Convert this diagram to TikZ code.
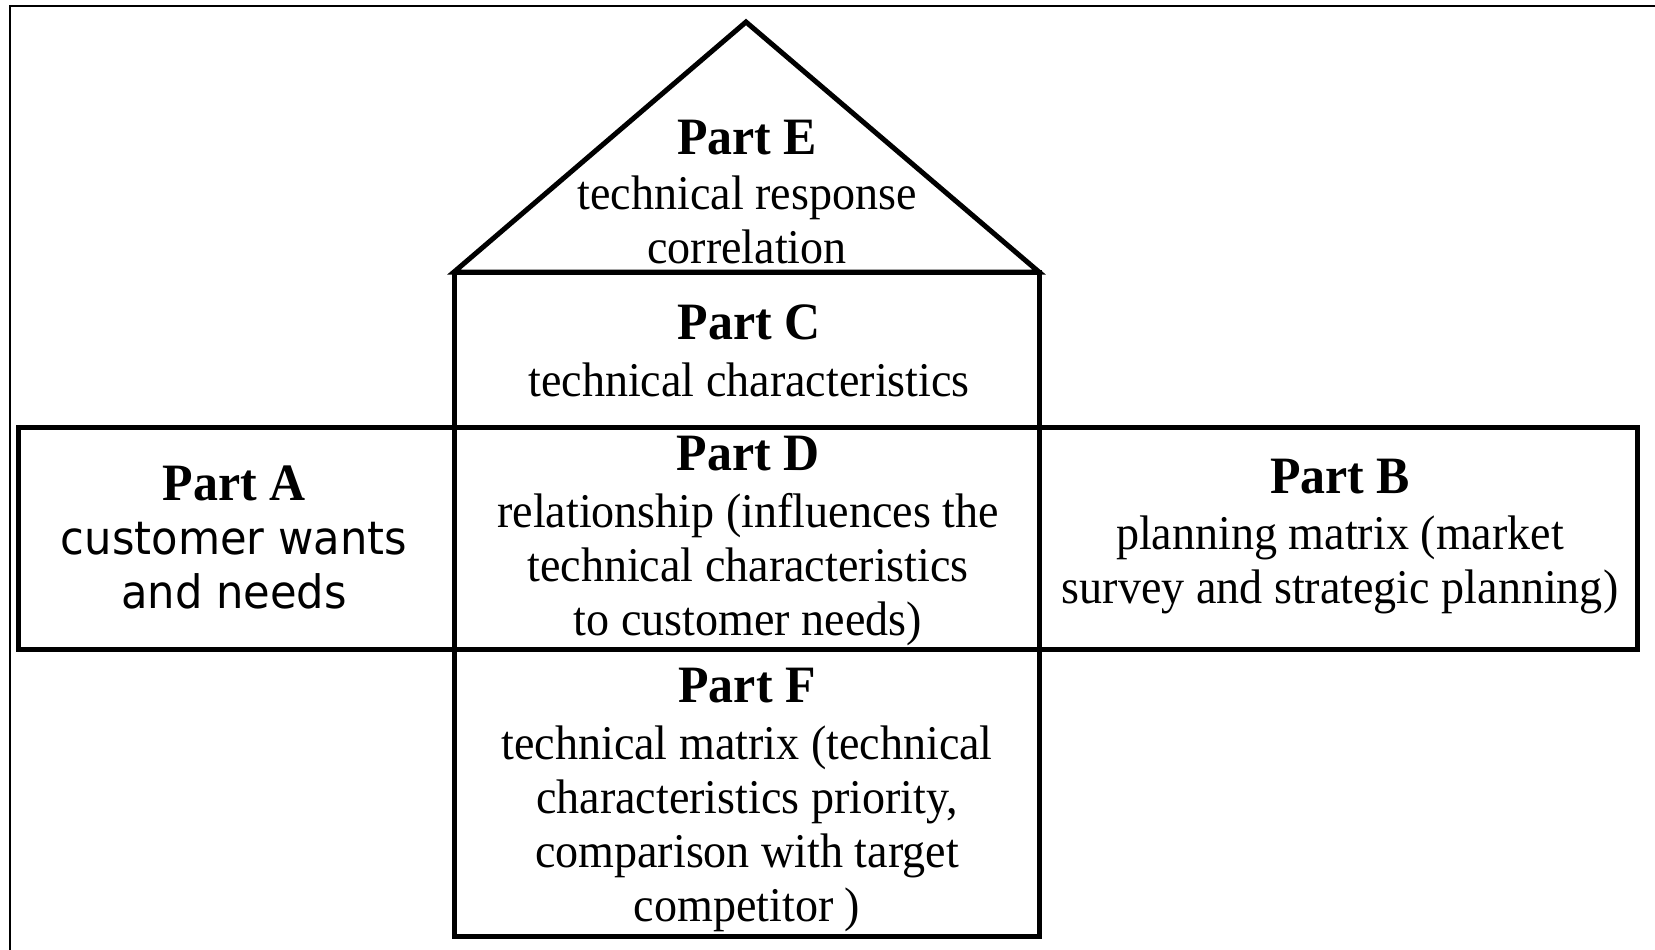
\documentclass[tikz,border=0pt]{standalone}
\usepackage{fontspec}
\setmainfont{Liberation Serif}[FakeStretch=0.95]
\newfontfamily\verafont{DejaVu Sans}[FakeStretch=0.94]
\newcommand{\headline}[1]{{\fontsize{52.5}{54}\selectfont\bfseries #1}}
\begin{document}
\begin{tikzpicture}[x=1pt, y=-1pt,
  wall/.style={draw=black, line width=5pt, line join=miter},
  frameline/.style={draw=black, line width=2.2pt},
  txt/.style={align=center, inner sep=0pt, font=\fontsize{48.5}{54}\selectfont},
  sanstxt/.style={align=center, inner sep=0pt, font=\verafont\fontsize{46}{54}\selectfont}]
\useasboundingbox (0,0) rectangle (1655,950);
\fill[white] (0,0) rectangle (1655,950);

% outer frame (top and left edges)
\draw[frameline] (10,950) -- (10,6) -- (1655,6);

% house outline
\coordinate (apex) at (746,22);
\coordinate (roofL) at (454,272);
\coordinate (roofR) at (1039,272);
\coordinate (colBot) at (1039,936);
\coordinate (rowTL) at (18,427);
\coordinate (rowBR) at (1637,649);

\draw[wall] (roofL) -- (apex) -- (roofR) -- cycle;
\draw[wall] (roofL) rectangle (colBot);
\draw[wall] (rowTL) rectangle (rowBR);

% labels
\node[txt] (partE) at (747,192) {\headline{Part E}\\[1pt]technical response\\correlation};
\node[txt] (partC) at (749,351) {\headline{Part C}\\[3pt]technical characteristics};
\node[txt] (partD) at (748,540.5) {\headline{Part D}\\[3pt]relationship (influences the\\technical characteristics\\to customer needs)};
\node[txt] (partB) at (1340,537) {\headline{Part B}\\[2pt]planning matrix (market\\survey and strategic planning)};
\node[txt] (partF) at (747,799.5) {\headline{Part F}\\[3pt]technical matrix (technical\\characteristics priority,\\comparison with target\\competitor )};
\node[sanstxt] (partA) at (234,537) {\fontsize{52.5}{54}\selectfont\rmfamily\bfseries Part A\\customer wants\\and needs};
\end{tikzpicture}
\end{document}
